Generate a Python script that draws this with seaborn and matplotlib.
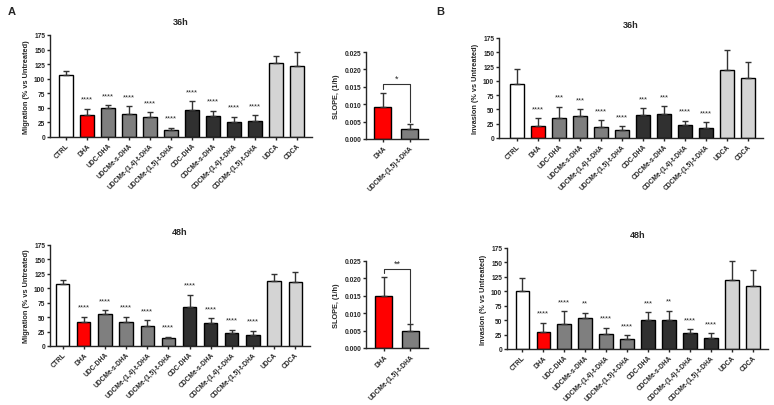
import numpy as np
import matplotlib
matplotlib.use('Agg')
import matplotlib.pyplot as plt
import seaborn as sns

# categories
treatments = ['CTRL', 'DHA', 'UDC-DHA', 'UDCMe-s-DHA', 'UDCMe-(1,4)-t-DHA',
              'UDCMe-(1,5)-t-DHA', 'CDC-DHA', 'CDCMe-s-DHA', 'CDCMe-(1,4)-t-DHA',
              'CDCMe-(1,5)-t-DHA', 'UDCA', 'CDCA']
slope_groups = ['DHA', 'UDCMe-(1,5)-t-DHA']

# migration (% vs untreated), mean and SD
mig_36_mean = [106.6, 38.0, 49.6, 39.3, 34.8, 11.4, 45.6, 36.5, 26.2, 26.8, 127.7, 121.4]
mig_36_sd = [6.4, 10.5, 5.4, 13.7, 8.0, 4.6, 15.4, 8.5, 8.6, 10.8, 10.8, 23.6]
mig_36_sig = ['', '****', '****', '****', '****', '****', '****', '****', '****', '****', '', '']

mig_48_mean = [108.0, 41.0, 55.5, 42.2, 34.0, 13.3, 67.6, 40.4, 22.5, 19.0, 113.2, 110.3]
mig_48_sd = [6.4, 9.8, 6.9, 8.6, 11.0, 2.9, 21.4, 7.6, 5.8, 7.6, 11.6, 17.9]
mig_48_sig = ['', '****', '****', '****', '****', '****', '****', '****', '****', '****', '', '']

# invasion (% vs untreated)
inv_36_mean = [94.2, 21.5, 34.9, 38.4, 19.8, 14.0, 40.1, 41.9, 22.7, 18.0, 118.6, 105.2]
inv_36_sd = [27.3, 13.4, 19.8, 12.2, 11.0, 6.3, 12.2, 13.3, 7.5, 9.3, 36.1, 27.9]
inv_36_sig = ['', '****', '***', '***', '****', '****', '***', '***', '****', '****', '', '']

inv_48_mean = [100.8, 29.0, 42.9, 54.5, 25.5, 17.4, 51.0, 49.8, 27.2, 19.1, 119.3, 110.0]
inv_48_sd = [21.5, 16.8, 23.1, 8.7, 11.5, 6.4, 13.3, 16.8, 7.6, 8.7, 32.5, 26.2]
inv_48_sig = ['', '****', '****', '**', '****', '****', '***', '**', '****', '****', '', '']

# slopes (1/h)
slope_36_mean = [0.0092, 0.0028]
slope_36_sd = [0.0041, 0.0016]
slope_48_mean = [0.0148, 0.0050]
slope_48_sd = [0.0055, 0.0019]

bar_colors = ['white', '#ff0000'] + ['#7f7f7f'] * 4 + ['#303030'] * 4 + ['#d4d4d4'] * 2
slope_colors = ['#ff0000', '#7f7f7f']

sns.set_style('ticks')
plt.rcParams['font.family'] = ['Liberation Sans', 'DejaVu Sans']
plt.rcParams['font.weight'] = 'bold'
plt.rcParams['axes.linewidth'] = 1.0

W, H = 774, 406
fig = plt.figure(figsize=(W / 100, H / 100), dpi=100)


def px_axes(left, right, top, bottom):
    return fig.add_axes([left / W, 1 - bottom / H, (right - left) / W, (bottom - top) / H])


def bar_panel(ax, labels, means, sds, colors, ylabel, ylim, yticks, xlim, fmt=None, sig=None):
    sns.barplot(x=labels, y=means, hue=labels, order=labels, palette=dict(zip(labels, colors)),
                legend=False, edgecolor='black', linewidth=1.0, width=0.63, saturation=1, ax=ax)
    x = np.arange(len(labels))
    ax.errorbar(x, means, yerr=[np.zeros(len(labels)), sds], fmt='none', ecolor='#333333',
                elinewidth=1.0, capsize=2.3, capthick=1.0, zorder=3)
    if sig is not None:
        for i, s in enumerate(sig):
            if s:
                ax.annotate(s, (i, means[i] + sds[i]), xytext=(0, 4.3), textcoords='offset points',
                            ha='center', va='bottom', fontsize=5.5, fontweight='normal')
    ax.set_xlim(*xlim)
    ax.set_ylim(*ylim)
    ax.set_yticks(yticks)
    if fmt:
        ax.set_yticklabels([fmt % t for t in yticks])
    ax.set_xticks(x)
    ax.set_xticklabels(labels, rotation=45, ha='right', rotation_mode='anchor')
    ax.tick_params(axis='both', labelsize=4.8, length=2, width=1, pad=1.5)
    ax.set_ylabel(ylabel, fontsize=5.3, fontweight='bold', labelpad=3)
    ax.set_xlabel('')
    sns.despine(ax=ax)


def bracket(ax, means, sds, ytop, text):
    yl = means[0] + sds[0] + 0.0012
    yr = means[1] + sds[1] + 0.0004
    ax.plot([0, 0, 1, 1], [yl, ytop, ytop, yr], color='#333333', lw=0.8)
    ax.text(0.5, ytop + 0.0005, text, ha='center', va='bottom', fontsize=6.5, fontweight='normal')


mig_ticks = [0, 25, 50, 75, 100, 125, 150, 175]
slope_ticks = [0, 0.005, 0.010, 0.015, 0.020, 0.025]

ax1 = px_axes(50, 312, 36, 138)
bar_panel(ax1, treatments, mig_36_mean, mig_36_sd, bar_colors, 'Migration (% vs Untreated)',
          (0, 175), mig_ticks, (-0.76, 11.71), sig=mig_36_sig)
ax1.set_title('36h', fontsize=6.5, fontweight='bold', pad=8)

ax2 = px_axes(366, 428, 53, 140)
bar_panel(ax2, slope_groups, slope_36_mean, slope_36_sd, slope_colors, 'SLOPE, (1/h)',
          (0, 0.025), slope_ticks, (-0.63, 1.67), fmt='%.3f')
bracket(ax2, slope_36_mean, slope_36_sd, 0.0158, '*')

ax3 = px_axes(499, 763, 39, 139)
bar_panel(ax3, treatments, inv_36_mean, inv_36_sd, bar_colors, 'Invasion (% vs Untreated)',
          (0, 175), mig_ticks, (-0.86, 11.71), sig=inv_36_sig)
ax3.set_title('36h', fontsize=6.5, fontweight='bold', pad=8)

ax4 = px_axes(50, 310, 246, 347)
bar_panel(ax4, treatments, mig_48_mean, mig_48_sd, bar_colors, 'Migration (% vs Untreated)',
          (0, 175), mig_ticks, (-0.6, 11.7), sig=mig_48_sig)
ax4.set_title('48h', fontsize=6.5, fontweight='bold', pad=8)

ax5 = px_axes(366, 428, 262, 349)
bar_panel(ax5, slope_groups, slope_48_mean, slope_48_sd, slope_colors, 'SLOPE, (1/h)',
          (0, 0.025), slope_ticks, (-0.67, 1.67), fmt='%.3f')
bracket(ax5, slope_48_mean, slope_48_sd, 0.0227, '**')

ax6 = px_axes(507, 768, 249, 350)
bar_panel(ax6, treatments, inv_48_mean, inv_48_sd, bar_colors, 'Invasion (% vs Untreated)',
          (0, 175), mig_ticks, (-0.72, 11.71), sig=inv_48_sig)
ax6.set_title('48h', fontsize=6.5, fontweight='bold', pad=8)

fig.text(8 / W, 1 - 12 / H, 'A', fontsize=8, fontweight='bold', va='center')
fig.text(436 / W, 1 - 12 / H, 'B', fontsize=8, fontweight='bold', va='center')

fig.savefig('out.png', dpi=100, facecolor='white')
